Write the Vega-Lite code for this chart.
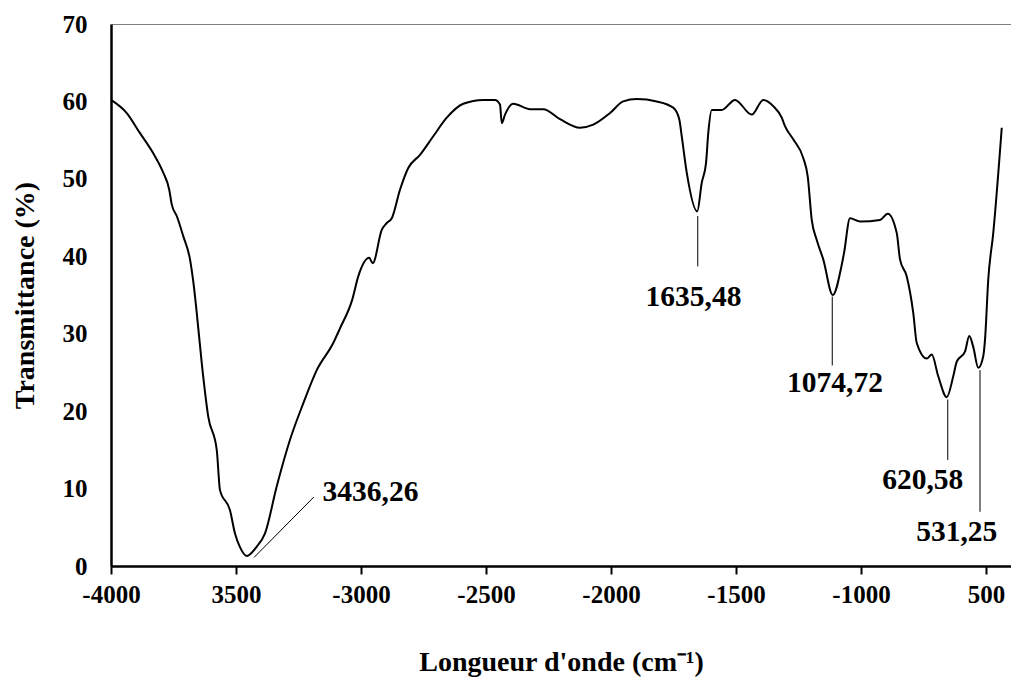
{
  "$schema": "https://vega.github.io/schema/vega-lite/v6.json",
  "width": 900,
  "height": 542,
  "autosize": {"type": "none"},
  "padding": {"left": 111, "top": 24, "right": 0, "bottom": 111},
  "background": "white",
  "config": {"view": {"stroke": "#808080", "strokeWidth": 1}, "font": "Liberation Serif"},
  "datasets": {
    "spectrum": [
      {"wavenumber": -4000, "transmittance": 60.2},
      {"wavenumber": -3937, "transmittance": 58.5},
      {"wavenumber": -3884, "transmittance": 55.9},
      {"wavenumber": -3831, "transmittance": 53.3},
      {"wavenumber": -3791, "transmittance": 50.8},
      {"wavenumber": -3767, "transmittance": 48.6},
      {"wavenumber": -3757, "transmittance": 46.7},
      {"wavenumber": -3737, "transmittance": 45.2},
      {"wavenumber": -3711, "transmittance": 42.6},
      {"wavenumber": -3684, "transmittance": 39.6},
      {"wavenumber": -3670, "transmittance": 36.5},
      {"wavenumber": -3657, "transmittance": 32.7},
      {"wavenumber": -3637, "transmittance": 26.2},
      {"wavenumber": -3611, "transmittance": 19.3},
      {"wavenumber": -3577, "transmittance": 15.0},
      {"wavenumber": -3564, "transmittance": 9.8},
      {"wavenumber": -3524, "transmittance": 7.2},
      {"wavenumber": -3504, "transmittance": 4.2},
      {"wavenumber": -3485, "transmittance": 2.5},
      {"wavenumber": -3457, "transmittance": 1.3},
      {"wavenumber": -3417, "transmittance": 2.5},
      {"wavenumber": -3384, "transmittance": 4.2},
      {"wavenumber": -3337, "transmittance": 10.3},
      {"wavenumber": -3284, "transmittance": 16.3},
      {"wavenumber": -3231, "transmittance": 21.0},
      {"wavenumber": -3177, "transmittance": 25.3},
      {"wavenumber": -3111, "transmittance": 28.8},
      {"wavenumber": -3084, "transmittance": 30.7},
      {"wavenumber": -3035, "transmittance": 34.4},
      {"wavenumber": -3011, "transmittance": 37.4},
      {"wavenumber": -2967, "transmittance": 39.8},
      {"wavenumber": -2953, "transmittance": 39.1},
      {"wavenumber": -2917, "transmittance": 43.4},
      {"wavenumber": -2897, "transmittance": 44.3},
      {"wavenumber": -2877, "transmittance": 44.9},
      {"wavenumber": -2844, "transmittance": 48.6},
      {"wavenumber": -2811, "transmittance": 51.4},
      {"wavenumber": -2764, "transmittance": 53.1},
      {"wavenumber": -2711, "transmittance": 55.5},
      {"wavenumber": -2657, "transmittance": 57.9},
      {"wavenumber": -2591, "transmittance": 59.7},
      {"wavenumber": -2511, "transmittance": 60.2},
      {"wavenumber": -2464, "transmittance": 60.2},
      {"wavenumber": -2444, "transmittance": 59.6},
      {"wavenumber": -2437, "transmittance": 57.2},
      {"wavenumber": -2424, "transmittance": 58.3},
      {"wavenumber": -2391, "transmittance": 59.7},
      {"wavenumber": -2324, "transmittance": 59.0},
      {"wavenumber": -2271, "transmittance": 59.0},
      {"wavenumber": -2204, "transmittance": 57.7},
      {"wavenumber": -2124, "transmittance": 56.6},
      {"wavenumber": -2071, "transmittance": 57.0},
      {"wavenumber": -2004, "transmittance": 58.5},
      {"wavenumber": -1951, "transmittance": 60.0},
      {"wavenumber": -1897, "transmittance": 60.3},
      {"wavenumber": -1817, "transmittance": 60.0},
      {"wavenumber": -1751, "transmittance": 59.2},
      {"wavenumber": -1727, "transmittance": 57.7},
      {"wavenumber": -1717, "transmittance": 55.5},
      {"wavenumber": -1697, "transmittance": 50.8},
      {"wavenumber": -1655, "transmittance": 45.8},
      {"wavenumber": -1637, "transmittance": 49.5},
      {"wavenumber": -1620, "transmittance": 52.0},
      {"wavenumber": -1611, "transmittance": 55.9},
      {"wavenumber": -1597, "transmittance": 58.9},
      {"wavenumber": -1557, "transmittance": 58.9},
      {"wavenumber": -1504, "transmittance": 60.2},
      {"wavenumber": -1437, "transmittance": 58.3},
      {"wavenumber": -1391, "transmittance": 60.2},
      {"wavenumber": -1351, "transmittance": 59.4},
      {"wavenumber": -1317, "transmittance": 57.9},
      {"wavenumber": -1304, "transmittance": 56.8},
      {"wavenumber": -1271, "transmittance": 55.1},
      {"wavenumber": -1231, "transmittance": 52.7},
      {"wavenumber": -1213, "transmittance": 50.3},
      {"wavenumber": -1197, "transmittance": 44.7},
      {"wavenumber": -1177, "transmittance": 42.1},
      {"wavenumber": -1151, "transmittance": 39.6},
      {"wavenumber": -1113, "transmittance": 35.0},
      {"wavenumber": -1077, "transmittance": 38.9},
      {"wavenumber": -1068, "transmittance": 40.4},
      {"wavenumber": -1044, "transmittance": 44.9},
      {"wavenumber": -1004, "transmittance": 44.5},
      {"wavenumber": -924, "transmittance": 44.7},
      {"wavenumber": -893, "transmittance": 45.5},
      {"wavenumber": -857, "transmittance": 43.0},
      {"wavenumber": -844, "transmittance": 39.6},
      {"wavenumber": -817, "transmittance": 37.4},
      {"wavenumber": -791, "transmittance": 32.7},
      {"wavenumber": -777, "transmittance": 28.8},
      {"wavenumber": -737, "transmittance": 26.8},
      {"wavenumber": -717, "transmittance": 27.3},
      {"wavenumber": -691, "transmittance": 24.5},
      {"wavenumber": -657, "transmittance": 21.8},
      {"wavenumber": -631, "transmittance": 24.5},
      {"wavenumber": -617, "transmittance": 26.4},
      {"wavenumber": -584, "transmittance": 27.7},
      {"wavenumber": -567, "transmittance": 29.7},
      {"wavenumber": -551, "transmittance": 28.3},
      {"wavenumber": -531, "transmittance": 25.6},
      {"wavenumber": -511, "transmittance": 27.1},
      {"wavenumber": -504, "transmittance": 29.2},
      {"wavenumber": -491, "transmittance": 37.0},
      {"wavenumber": -471, "transmittance": 43.0},
      {"wavenumber": -437, "transmittance": 56.6}
    ],
    "leaders": [
      {"x": -3428, "x2": -3189, "y": 1.1, "y2": 8.9},
      {"x": -1653, "x2": -1653, "y": 45.2, "y2": 38.7},
      {"x": -1115, "x2": -1115, "y": 34.8, "y2": 25.9},
      {"x": -653, "x2": -653, "y": 21.5, "y2": 13.7},
      {"x": -524, "x2": -524, "y": 25.3, "y2": 7.0}
    ],
    "peaks": [
      {"x": -2962, "y": 9.6, "label": "3436,26"},
      {"x": -1670, "y": 34.8, "label": "1635,48"},
      {"x": -1104, "y": 23.6, "label": "1074,72"},
      {"x": -753, "y": 11.1, "label": "620,58"},
      {"x": -617, "y": 4.4, "label": "531,25"}
    ]
  },
  "layer": [
    {
      "data": {"name": "spectrum"},
      "mark": {"type": "line", "color": "black", "strokeWidth": 2, "interpolate": "monotone"},
      "encoding": {
        "x": {
          "field": "wavenumber",
          "type": "quantitative",
          "scale": {"domain": [-4000, -400], "nice": false, "zero": false},
          "axis": {
            "title": "Longueur d'onde (cm⁻¹)",
            "values": [-4000, -3500, -3000, -2500, -2000, -1500, -1000, -500],
            "labelExpr": "datum.value == -3500 ? '3500' : datum.value == -500 ? '500' : '' + datum.value",
            "grid": false,
            "domainColor": "black",
            "domainWidth": 2.5,
            "tickColor": "black",
            "tickWidth": 2,
            "tickSize": 8,
            "labelPadding": 8,
            "labelFlush": false,
            "labelOverlap": false,
            "labelFont": "Liberation Serif",
            "labelFontWeight": "bold",
            "labelFontSize": 25,
            "labelColor": "black",
            "titleFont": "Liberation Serif",
            "titleFontWeight": "bold",
            "titleFontSize": 28,
            "titleColor": "black",
            "titleY": 104,
            "titleBaseline": "alphabetic"
          }
        },
        "y": {
          "field": "transmittance",
          "type": "quantitative",
          "scale": {"domain": [0, 70], "nice": false},
          "axis": {
            "title": "Transmittance (%)",
            "values": [0, 10, 20, 30, 40, 50, 60, 70],
            "grid": false,
            "ticks": false,
            "domainColor": "black",
            "domainWidth": 2.5,
            "labelPadding": 24,
            "labelFlush": false,
            "labelOverlap": false,
            "labelFont": "Liberation Serif",
            "labelFontWeight": "bold",
            "labelFontSize": 25,
            "labelColor": "black",
            "titleFont": "Liberation Serif",
            "titleFontWeight": "bold",
            "titleFontSize": 28,
            "titleColor": "black",
            "titleX": -86,
            "titleY": 271,
            "titleAngle": -90,
            "titleAlign": "center",
            "titleBaseline": "middle"
          }
        }
      }
    },
    {
      "data": {"name": "leaders"},
      "mark": {"type": "rule", "color": "black", "strokeWidth": 1},
      "encoding": {
        "x": {"field": "x", "type": "quantitative"},
        "x2": {"field": "x2"},
        "y": {"field": "y", "type": "quantitative"},
        "y2": {"field": "y2"}
      }
    },
    {
      "data": {"name": "peaks"},
      "mark": {"type": "text", "font": "Liberation Serif", "fontWeight": "bold", "fontSize": 29.5, "color": "black", "align": "center", "baseline": "middle"},
      "encoding": {
        "x": {"field": "x", "type": "quantitative"},
        "y": {"field": "y", "type": "quantitative"},
        "text": {"field": "label"}
      }
    },
    {
      "mark": {"type": "rule", "color": "black", "strokeWidth": 2.5},
      "encoding": {"y": {"datum": 70}}
    }
  ]
}
